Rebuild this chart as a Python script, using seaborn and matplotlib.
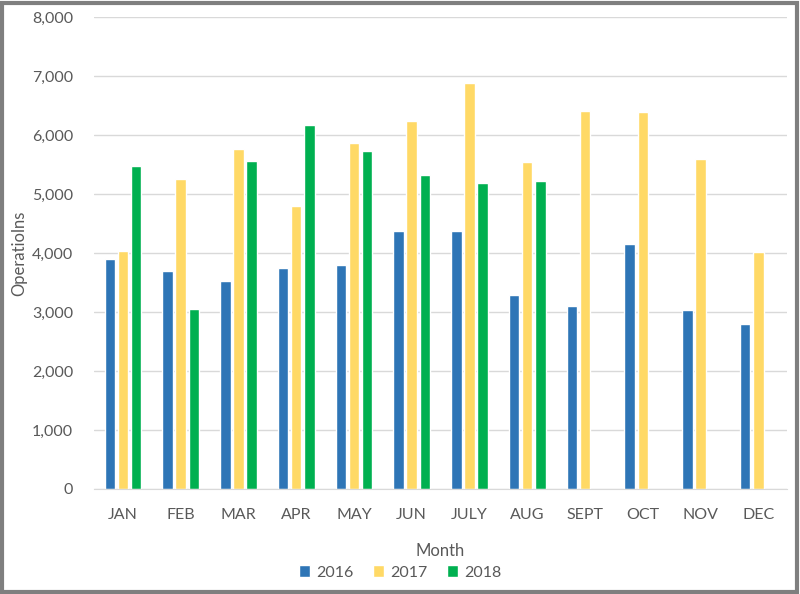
import numpy as np
import pandas as pd
import matplotlib
matplotlib.use('Agg')
import matplotlib.pyplot as plt
import seaborn as sns
from matplotlib.patches import Rectangle

# values
months = ['JAN', 'FEB', 'MAR', 'APR', 'MAY', 'JUN', 'JULY', 'AUG', 'SEPT', 'OCT', 'NOV', 'DEC']
ops_2016 = [3900, 3695, 3525, 3746, 3797, 4373, 4373, 3288, 3096, 4158, 3040, 2797]
ops_2017 = [4039, 5254, 5768, 4791, 5864, 6237, 6887, 5537, 6407, 6390, 5593, 4017]
ops_2018 = [5480, 3051, 5559, 6169, 5729, 5316, 5186, 5220, np.nan, np.nan, np.nan, np.nan]
years = ['2016', '2017', '2018']
colors = ['#2E75B6', '#FFD966', '#00B050']

df = pd.DataFrame({'Month': months, '2016': ops_2016, '2017': ops_2017, '2018': ops_2018})
df = df.melt(id_vars='Month', var_name='Year', value_name='Operations').dropna()

sns.set_style('white')
plt.rcParams['font.family'] = ['Lato', 'DejaVu Sans']
text_col = '#595959'

fig = plt.figure(figsize=(8, 5.94), dpi=100)
ax = fig.add_axes([0.1175, 0.177, 0.8665, 0.794])

sns.barplot(data=df, x='Month', y='Operations', hue='Year', order=months,
            hue_order=years, palette=colors, width=0.68, gap=0.2,
            saturation=1, ax=ax)

ax.set_ylim(0, 8000)
ax.set_yticks(range(0, 8001, 1000))
ax.yaxis.set_major_formatter(matplotlib.ticker.FuncFormatter(lambda v, p: f'{int(v):,}'))
ax.grid(axis='y', color='#D9D9D9', linewidth=1)
ax.set_axisbelow(True)
for s in ['top', 'right', 'left']:
    ax.spines[s].set_visible(False)
ax.spines['bottom'].set_color('#D9D9D9')
ax.tick_params(axis='both', length=0, labelsize=11.5, colors=text_col)
ax.tick_params(axis='y', pad=15)
ax.tick_params(axis='x', pad=14)

ax.set_xlabel('Month', fontsize=12, color=text_col, labelpad=15)
ax.set_ylabel('Operatiolns', fontsize=12, color=text_col, labelpad=3)

ax.legend(loc='lower center', bbox_to_anchor=(0.5, 0.0), bbox_transform=fig.transFigure,
          ncol=3, frameon=False, fontsize=11.5, handlelength=0.7, handleheight=0.7,
          handletextpad=0.4, columnspacing=1.2, labelcolor=text_col)

fig.patches.append(Rectangle((0.002, 0.003), 0.994, 0.992, transform=fig.transFigure,
                             fill=False, edgecolor='#7F7F7F', linewidth=3))

fig.savefig('out.png', dpi=100)
